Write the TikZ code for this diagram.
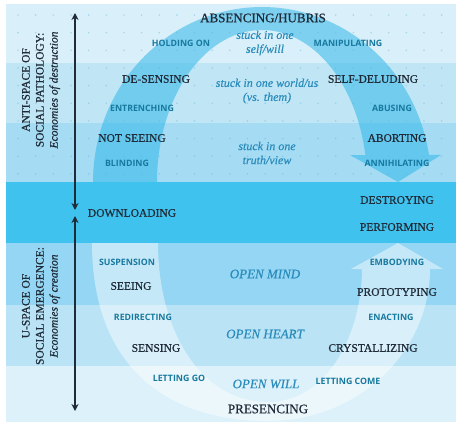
\documentclass[tikz,border=0pt]{standalone}
\usepackage{fontspec}
\setmainfont{Liberation Serif}
\newfontfamily\labserif{Liberation Serif}[FakeBold=0.7]
\newfontfamily\itserif{Liberation Serif}[FakeBold=0.35]
\newfontfamily\actfont{Open Sans}
\usetikzlibrary{arrows.meta}
\definecolor{bandA}{HTML}{D9EFF9}
\definecolor{bandB}{HTML}{C0E6F6}
\definecolor{bandC}{HTML}{A5DBF3}
\definecolor{bandD}{HTML}{3FC3EE}
\definecolor{bandE}{HTML}{94D6F3}
\definecolor{bandF}{HTML}{BAE4F6}
\definecolor{bandG}{HTML}{DDF1FA}
\definecolor{arcblue}{HTML}{29B5E8}
\definecolor{dotblue}{HTML}{5FB3DC}
\definecolor{ink}{HTML}{1F2B38}
\definecolor{actblue}{HTML}{17799F}
\definecolor{itblue}{HTML}{2A8CBB}
\begin{document}
\begin{tikzpicture}[x=1pt,y=-1pt,
  lab/.style={text=ink,inner sep=0pt,font=\labserif\fontsize{11.5}{13}\selectfont},
  biglab/.style={text=ink,inner sep=0pt,font=\labserif\fontsize{13}{14}\selectfont},
  act/.style={text=actblue,inner sep=0pt,font=\actfont\bfseries\fontsize{8.8}{10}\selectfont},
  stuck/.style={text=itblue,inner sep=0pt,align=center,font=\itserif\itshape\fontsize{12}{14}\selectfont},
  openlab/.style={text=itblue,inner sep=0pt,font=\itserif\itshape\fontsize{13}{14}\selectfont},
  side/.style={text=ink,inner sep=0pt,align=center,rotate=90,font=\labserif\fontsize{11.5}{14}\selectfont},
  vline/.style={draw=ink,line width=1.3pt,{Stealth[length=7pt,width=7pt]}-{Stealth[length=7pt,width=7pt]}},
  uparc/.style={fill=arcblue,fill opacity=0.52},
  downarc/.style={fill=white,fill opacity=0.45},
  dotc/.style={fill=dotblue,fill opacity=0.4}]
\useasboundingbox (0,0) rectangle (458,428);
\fill[white] (0,0) rectangle (458,428);
% bands
\fill[bandA] (6,4) rectangle (456,63);
\fill[bandB] (6,63) rectangle (456,123);
\fill[bandC] (6,123) rectangle (456,182);
\fill[bandD] (6,182) rectangle (456,243);
\fill[bandE] (6,243) rectangle (456,305);
\fill[bandF] (6,305) rectangle (456,366);
\fill[bandG] (6,366) rectangle (456,422);
% upper arc arrow
\fill[uparc] plot[domain=180:8.9,samples=90,variable=\t] ({262+169*cos(\t)},{182-175*sin(\t)})
  -- (441,155) -- (398,182) -- (350,155)
  -- plot[domain=10.2:180,samples=90,variable=\t] ({262+105*cos(\t)},{182-152*sin(\t)}) -- cycle;
% lower U arrow
\fill[downarc] (92,243) .. controls (92,360) and (160,421) .. (268,421)
  .. controls (360,421) and (430,350) .. (430,269) -- (443,269) -- (398,243) -- (351,269) -- (362,269)
  .. controls (362,330) and (330,402) .. (268,402)
  .. controls (200,402) and (158,330) .. (158,243) -- cycle;
% dots
\foreach \i in {0,...,24}{\foreach \j in {0,...,9}{\fill[dotc] ({18+17.65*\i},{15+17.65*\j}) circle (0.9pt);}}
% vertical arrows
\coordinate (ut) at (75,13);
\coordinate (ub) at (75,210);
\coordinate (lt) at (75,216);
\coordinate (lb) at (75,411);
\draw[vline] (ut) -- (ub);
\draw[vline] (lt) -- (lb);
% side texts
\node[side] (antispace) at (41,90) {ANTI-SPACE OF\\SOCIAL PATHOLOGY:\\\itshape Economies of destruction};
\node[side] (uspace) at (41,306) {U-SPACE OF\\SOCIAL EMERGENCE:\\\itshape Economies of creation};
% upper labels
\node[biglab] (absencing) at (263,18) {ABSENCING/HUBRIS};
\node[stuck] (stuckA) at (265,43) {stuck in one\\self/will};
\node[act] (holding) at (181,43) {HOLDING ON};
\node[act] (manip) at (348,43) {MANIPULATING};
\node[lab] (desensing) at (156,79) {DE-SENSING};
\node[stuck] (stuckB) at (267,91) {stuck in one world/us\\(vs. them)};
\node[lab] (selfdel) at (373,79) {SELF-DELUDING};
\node[act] (entrench) at (142,108) {ENTRENCHING};
\node[act] (abusing) at (392,108) {ABUSING};
\node[lab] (notseeing) at (132,138) {NOT SEEING};
\node[stuck] (stuckC) at (267,153) {stuck in one\\truth/view};
\node[lab] (aborting) at (397,138) {ABORTING};
\node[act] (blinding) at (127,163) {BLINDING};
\node[act] (annih) at (397,163) {ANNIHILATING};
% middle
\node[lab] (download) at (132,213) {DOWNLOADING};
\node[lab] (destroy) at (397,200) {DESTROYING};
\node[lab] (perform) at (397,227) {PERFORMING};
% lower labels
\node[act] (suspension) at (127,262) {SUSPENSION};
\node[lab] (seeing) at (131,286) {SEEING};
\node[openlab] (openmind) at (265,274) {OPEN MIND};
\node[act] (embody) at (397,262) {EMBODYING};
\node[lab] (proto) at (397,292) {PROTOTYPING};
\node[act] (redirect) at (143,317) {REDIRECTING};
\node[act] (enact) at (391,317) {ENACTING};
\node[openlab] (openheart) at (265,334) {OPEN HEART};
\node[lab] (sensing) at (156,348) {SENSING};
\node[lab] (crystal) at (373,348) {CRYSTALLIZING};
\node[act] (lettinggo) at (179,378) {LETTING GO};
\node[openlab] (openwill) at (266,384) {OPEN WILL};
\node[act] (lettingcome) at (348,381) {LETTING COME};
\node[biglab] (presencing) at (268,409) {PRESENCING};
\end{tikzpicture}
\end{document}
